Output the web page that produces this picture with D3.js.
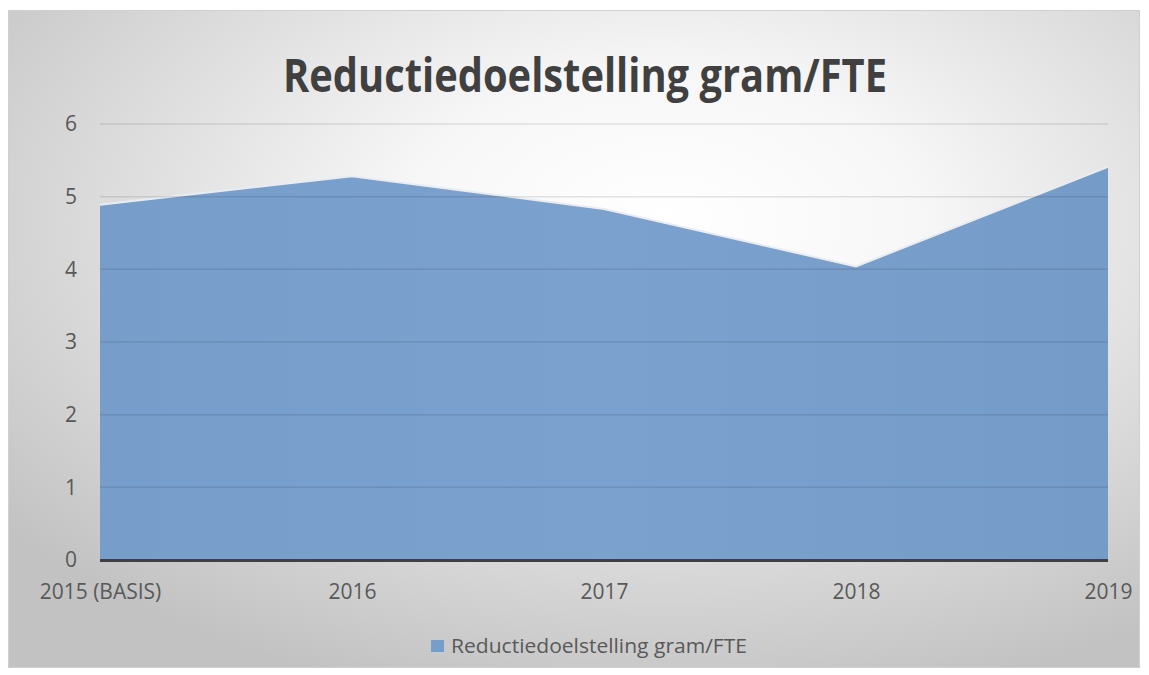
<!DOCTYPE html>
<html>
<head>
<meta charset="utf-8">
<script src="https://cdn.jsdelivr.net/npm/d3@7"></script>
<style>
  body { margin: 0; background: #fff; }
  text { font-family: "Open Sans", "Noto Sans", sans-serif; }
</style>
</head>
<body>
<div id="chart"></div>
<script>
// data
var categories = ["2015 (BASIS)", "2016", "2017", "2018", "2019"];
var values = [4.89, 5.28, 4.83, 4.04, 5.41];
var yTicks = [0, 1, 2, 3, 4, 5, 6];
var seriesName = "Reductiedoelstelling gram/FTE";
var chartTitle = "Reductiedoelstelling gram/FTE";

var width = 1149, height = 675;
var margin = { top: 124, right: 41, bottom: 115, left: 100 };

var svg = d3.select("#chart").append("svg")
    .attr("width", width)
    .attr("height", height);

var defs = svg.append("defs");
var bg = defs.append("radialGradient")
    .attr("id", "bg")
    .attr("cx", "58%").attr("cy", "32%").attr("r", "75%");
bg.append("stop").attr("offset", "0%").attr("stop-color", "#ffffff");
bg.append("stop").attr("offset", "30%").attr("stop-color", "#f7f7f7");
bg.append("stop").attr("offset", "100%").attr("stop-color", "#c2c2c2");

var areaGrad = defs.append("linearGradient")
    .attr("id", "areaGrad")
    .attr("x1", "0%").attr("x2", "100%").attr("y1", "0%").attr("y2", "0%");
areaGrad.append("stop").attr("offset", "0%").attr("stop-color", "#779ecb");
areaGrad.append("stop").attr("offset", "50%").attr("stop-color", "#7ba1ce");
areaGrad.append("stop").attr("offset", "100%").attr("stop-color", "#759bc8");

// chart frame
svg.append("rect")
    .attr("x", 8.5).attr("y", 10.5)
    .attr("width", 1131).attr("height", 657)
    .attr("fill", "url(#bg)")
    .attr("stroke", "#d0d0d0");

var x = d3.scalePoint()
    .domain(categories)
    .range([margin.left, width - margin.right]);

var y = d3.scaleLinear()
    .domain([0, 6])
    .range([height - margin.bottom, margin.top]);

// area
var area = d3.area()
    .x(function(d, i) { return x(categories[i]); })
    .y0(y(0))
    .y1(function(d) { return y(d); });

svg.append("path")
    .datum(values)
    .attr("d", area)
    .attr("fill", "url(#areaGrad)");

// light top edge
var line = d3.line()
    .x(function(d, i) { return x(categories[i]); })
    .y(function(d) { return y(d); });

svg.append("path")
    .datum(values)
    .attr("d", line)
    .attr("fill", "none")
    .attr("stroke", "#e6edf6")
    .attr("stroke-width", 2);

// gridlines
svg.append("g")
    .selectAll("line")
    .data(yTicks.filter(function(t) { return t > 0; }))
    .enter()
    .append("line")
    .attr("x1", margin.left)
    .attr("x2", width - margin.right)
    .attr("y1", function(d) { return y(d); })
    .attr("y2", function(d) { return y(d); })
    .attr("stroke", "#000")
    .attr("stroke-opacity", 0.1)
    .attr("stroke-width", 1.5);

// zero line
svg.append("line")
    .attr("x1", margin.left)
    .attr("x2", width - margin.right)
    .attr("y1", y(0) + 0.5)
    .attr("y2", y(0) + 0.5)
    .attr("stroke", "#404040")
    .attr("stroke-width", 3);

// y axis labels
var yAxis = svg.append("g")
    .attr("transform", "translate(" + (margin.left - 23) + ",0)")
    .call(d3.axisLeft(y).tickValues(yTicks).tickFormat(d3.format("d")).tickSize(0).tickPadding(0));
yAxis.select(".domain").remove();
yAxis.selectAll("text")
    .style("font-size", "21px")
    .style("font-family", "'Open Sans', sans-serif")
    .attr("fill", "#595959");

// x axis labels
var xAxis = svg.append("g")
    .attr("transform", "translate(0," + (y(0) + 24) + ")")
    .call(d3.axisBottom(x).tickSize(0).tickPadding(0));
xAxis.select(".domain").remove();
xAxis.selectAll("text")
    .style("font-size", "21px")
    .style("font-family", "'Open Sans', sans-serif")
    .attr("fill", "#595959");

// title
svg.append("text")
    .attr("x", 585)
    .attr("y", 92)
    .attr("text-anchor", "middle")
    .attr("font-size", 46)
    .attr("font-weight", "bold")
    .attr("fill", "#404040")
    .attr("textLength", 604)
    .attr("lengthAdjust", "spacingAndGlyphs")
    .text(chartTitle);

// legend
var legend = svg.append("g");
legend.append("rect")
    .attr("x", 431).attr("y", 640)
    .attr("width", 13).attr("height", 12)
    .attr("fill", "#779ecb");
legend.append("text")
    .attr("x", 451)
    .attr("y", 653)
    .attr("font-size", 20)
    .attr("fill", "#595959")
    .attr("textLength", 296)
    .attr("lengthAdjust", "spacingAndGlyphs")
    .text(seriesName);
</script>
</body>
</html>
